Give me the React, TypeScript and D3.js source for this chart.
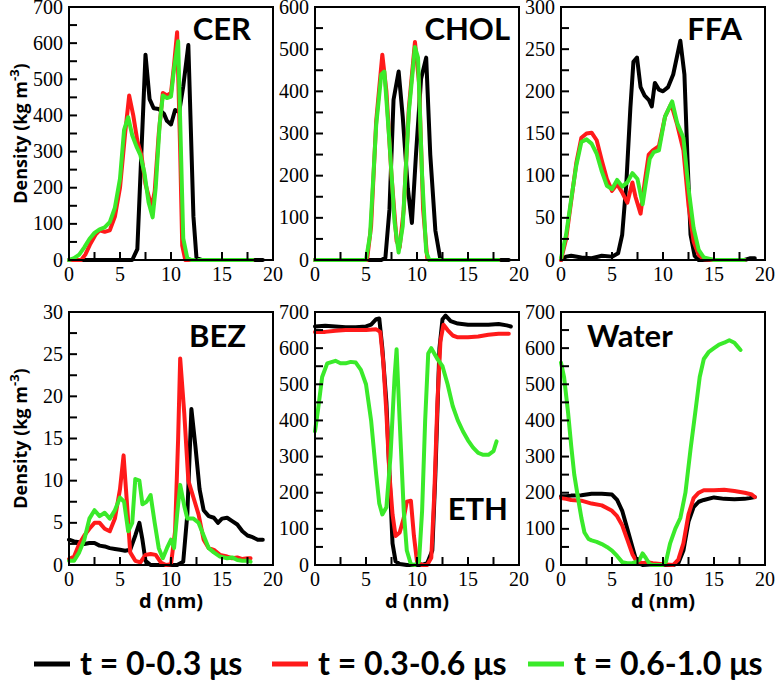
import * as d3 from "d3";
import React from "react";

type Pt = [number, number];

// ---- data (d in nm, density in kg m^-3) ----
const cerBlack: Pt[] = [[0,0],[3,0],[6.2,0],[6.7,30],[7.1,300],[7.5,568],[7.9,445],[8.3,420],[8.8,418],[9.3,405],[9.6,385],[10.0,375],[10.4,415],[10.8,410],[11.2,480],[11.7,595],[12.2,120],[12.5,5],[13,0],[19,0]];
const cerRed: Pt[] = [[0,0],[1.2,0],[1.6,15],[2.1,45],[2.6,70],[3.0,82],[3.5,78],[4.0,82],[4.5,120],[5.0,200],[5.5,350],[5.9,455],[6.3,400],[6.7,330],[7.1,290],[7.5,210],[8.1,145],[8.4,190],[8.8,350],[9.2,462],[9.6,455],[10.0,462],[10.3,540],[10.6,630],[10.9,300],[11.1,40],[11.4,0],[18,0]];
const cerGreen: Pt[] = [[0,0],[0.5,5],[1,15],[1.5,35],[2,58],[2.5,75],[3,85],[3.5,90],[4,105],[4.5,145],[5,225],[5.4,360],[5.8,395],[6.2,345],[6.6,315],[7.0,290],[7.4,240],[7.8,160],[8.2,118],[8.5,200],[8.9,380],[9.2,455],[9.6,448],[10.0,452],[10.3,530],[10.7,605],[10.95,330],[11.2,60],[11.6,5],[12,0],[18,0]];

const cholBlack: Pt[] = [[0,0],[6.5,0],[6.9,5],[7.3,120],[7.7,380],[8.2,447],[8.6,340],[9.1,170],[9.5,88],[9.9,250],[10.4,430],[10.9,480],[11.3,250],[11.8,70],[12.3,0],[19,0]];
const cholRed: Pt[] = [[0,0],[5.1,0],[5.5,80],[6.0,330],[6.6,487],[7.0,400],[7.5,200],[8.0,45],[8.3,30],[8.7,120],[9.2,360],[9.8,517],[10.2,420],[10.6,120],[11.0,5],[11.2,0],[18,0]];
const cholGreen: Pt[] = [[0,0],[5.0,0],[5.4,60],[6.0,320],[6.5,440],[6.8,447],[7.3,280],[7.8,90],[8.2,18],[8.6,80],[9.2,350],[9.8,505],[10.1,480],[10.5,200],[10.9,20],[11.2,0],[18,0]];

const ffaBlack: Pt[] = [[0,0],[0.5,4],[1,5],[2,3],[3,2],[4,5],[5,4],[5.6,8],[6.0,30],[6.4,90],[6.8,180],[7.1,235],[7.45,240],[7.8,205],[8.2,195],[8.6,190],[8.9,182],[9.2,210],[9.6,202],[10.0,200],[10.5,205],[11.0,220],[11.7,260],[12.1,220],[12.4,120],[12.7,30],[13.1,5],[13.5,0],[18,0],[18.5,2],[19,2]];
const ffaRed: Pt[] = [[0,0],[0.5,25],[1,70],[1.5,115],[2,145],[2.5,150],[3,151],[3.5,142],[4,118],[4.5,96],[5.0,82],[5.5,90],[6.0,80],[6.5,68],[7.0,92],[7.3,75],[7.8,55],[8.2,92],[8.6,125],[9,130],[9.6,135],[10.2,170],[10.8,185],[11.4,160],[12.0,130],[12.5,65],[13,22],[13.5,6],[14,1],[15,0],[18,0]];
const ffaGreen: Pt[] = [[0,2],[0.5,30],[1,72],[1.5,112],[2,140],[2.5,143],[3,138],[3.5,126],[4,105],[4.5,88],[5.0,84],[5.5,95],[6.0,87],[6.5,92],[7.0,103],[7.5,96],[8.0,66],[8.3,90],[8.7,120],[9.1,128],[9.6,130],[10.2,170],[10.9,188],[11.4,162],[12.0,145],[12.5,85],[13,38],[13.5,12],[14,3],[15,0],[18,0]];

const bezBlack: Pt[] = [[0,3.0],[0.5,2.8],[1,2.7],[1.5,2.5],[2,2.6],[2.5,2.6],[3,2.3],[3.5,2.2],[4,2.0],[4.5,1.9],[5,1.8],[5.5,1.7],[6,1.8],[6.5,3.5],[6.9,5.0],[7.2,3.0],[7.5,0.5],[8,0],[10.6,0],[11.2,0.4],[11.6,6],[12.0,18.5],[12.4,14],[12.8,9],[13.2,6.5],[13.7,5.8],[14.2,5.6],[14.6,5],[15.0,5.5],[15.5,5.6],[16.0,5.2],[16.5,4.8],[17.0,4.0],[17.5,3.5],[18.0,3.3],[18.5,3.0],[19,3.0]];
const bezRed: Pt[] = [[0,0.7],[0.5,1],[1,2.5],[1.5,3.5],[2,4.3],[2.5,5],[3,5],[3.5,4.3],[4,4.0],[4.5,5.5],[5,9],[5.35,13],[5.7,7],[6,1.5],[6.5,0.5],[7,0.3],[7.5,1.2],[8,1.3],[8.5,1.2],[9,0.3],[9.5,0],[10,0.1],[10.4,4],[10.7,15],[10.9,24.5],[11.3,18],[11.7,10],[12.2,8],[12.7,6],[13.2,3],[13.7,2],[14.2,1.8],[14.8,1.2],[15.5,1.0],[16,0.8],[16.5,0.9],[17,0.7],[17.5,0.8],[17.8,0.8]];
const bezGreen: Pt[] = [[0,0.5],[0.5,0.5],[1,1.5],[1.5,3],[2,5.5],[2.5,6.5],[3,5.8],[3.5,6.2],[4,5.5],[4.5,6.5],[5,8.0],[5.4,7.5],[5.8,4],[6.2,5],[6.5,10.2],[6.9,10],[7.2,7.2],[7.6,7.5],[8,8.3],[8.4,5],[8.8,2],[9.2,0.8],[9.6,2],[10,3],[10.3,2],[10.6,6],[10.9,9.5],[11.3,7],[11.6,5.5],[12.2,5.5],[12.7,5.0],[13.2,3.5],[13.7,2.0],[14.2,1.5],[14.8,1.0],[15.5,0.8],[16,0.9],[16.5,0.6],[17,0.5],[17.5,0.5],[17.8,0.4]];

const ethBlack: Pt[] = [[0,660],[1,662],[2,660],[3,658],[4,658],[5,660],[5.5,665],[6.0,680],[6.3,682],[6.6,600],[7.0,450],[7.3,250],[7.6,60],[7.9,10],[8.3,3],[9,0],[10.5,0],[11.0,5],[11.5,40],[11.8,250],[12.2,600],[12.5,680],[12.8,690],[13.3,675],[14,668],[15,665],[16,665],[17,665],[18,667],[18.8,663],[19.2,660]];
const ethRed: Pt[] = [[0,645],[1,645],[2,648],[3,650],[4,650],[5,650],[6,652],[6.4,645],[6.7,560],[7.0,420],[7.3,250],[7.6,140],[7.9,80],[8.3,90],[8.7,130],[9.0,175],[9.4,178],[9.7,80],[10.0,10],[10.5,0],[11.0,0],[11.4,20],[11.7,200],[12.0,450],[12.3,620],[12.6,665],[13.0,650],[13.5,635],[14,630],[15,630],[16,632],[17,637],[18,640],[19,640]];
const ethGreen: Pt[] = [[0,370],[0.3,430],[0.7,520],[1.2,558],[2,565],[2.5,558],[3,558],[3.5,562],[4,560],[4.5,540],[5,500],[5.5,400],[6,250],[6.3,170],[6.6,140],[7.0,160],[7.4,300],[7.8,520],[8.0,597],[8.3,400],[8.7,150],[9.0,40],[9.4,2],[9.8,0],[10.2,10],[10.5,150],[10.8,400],[11.1,585],[11.4,600],[12,570],[12.5,550],[13,500],[13.5,440],[14,400],[14.5,370],[15,345],[15.5,325],[16,310],[16.5,305],[17,305],[17.5,315],[17.8,342]];

const waterBlack: Pt[] = [[0,190],[0.5,190],[1,192],[2,193],[3,197],[4,197],[5,195],[5.5,180],[6,150],[6.5,100],[7,50],[7.3,20],[7.6,5],[8,0],[9,2],[10,0],[11,0],[11.5,5],[12,40],[12.5,120],[13,160],[13.5,175],[14,180],[15,187],[16,183],[17,182],[18,183],[18.5,185],[19,188]];
const waterRed: Pt[] = [[0,185],[0.5,183],[1,180],[2,178],[3,170],[4,165],[5,150],[5.5,135],[6,110],[6.5,70],[7,30],[7.4,10],[8,5],[8.5,8],[9,5],[10,2],[11,0],[11.5,15],[12,60],[12.5,140],[13,185],[13.5,200],[14,207],[15,207],[16,208],[17,205],[18,200],[18.7,195],[19,188]];
const waterGreen: Pt[] = [[0,560],[0.3,520],[0.7,420],[1,330],[1.3,250],[1.7,180],[2,130],[2.3,90],[2.7,72],[3,68],[3.5,64],[4,58],[4.5,50],[5,40],[5.5,25],[6,8],[6.5,5],[7,5],[7.3,8],[7.7,15],[8,32],[8.3,20],[8.7,2],[9,0],[10,0],[10.3,10],[10.7,60],[11.2,100],[11.7,130],[12.2,200],[12.7,320],[13.2,430],[13.6,520],[14,570],[14.5,590],[15,600],[15.5,610],[16,615],[16.5,622],[17,615],[17.3,605],[17.6,595]];

const panelNames = ["CER", "CHOL", "FFA", "BEZ", "ETH", "Water"];
const yMaxes = [700, 600, 300, 30, 700, 700];
const yMajor = [100, 100, 50, 5, 100, 100];
const panelSeries: Pt[][][] = [
  [cerBlack, cerRed, cerGreen],
  [cholBlack, cholRed, cholGreen],
  [ffaBlack, ffaRed, ffaGreen],
  [bezBlack, bezRed, bezGreen],
  [ethBlack, ethRed, ethGreen],
  [waterBlack, waterRed, waterGreen],
];
const seriesLabels = ["t = 0-0.3 μs", "t = 0.3-0.6 μs", "t = 0.6-1.0 μs"];
const colors = ["#000000", "#ff1a1a", "#3aea2a"];

// ---- layout ----
const W = 776;
const H = 685;
const colX = [69, 315, 561];
const rowY = [7, 312];
const pw = 204;
const ph = 253;
const labelPos: { x: number; y: number; anchor: string }[] = [
  { x: 182, y: 33, anchor: "end" },
  { x: 195, y: 33, anchor: "end" },
  { x: 181, y: 33, anchor: "end" },
  { x: 177, y: 35, anchor: "end" },
  { x: 193, y: 208, anchor: "end" },
  { x: 26, y: 35, anchor: "start" },
];
const legendX = [34, 272, 528];
const serif = "'Liberation Serif', 'DejaVu Serif', serif";
const sans = "Lato, 'Open Sans', sans-serif";

const Panel = ({ i }: { i: number }) => {
  const col = i % 3;
  const row = Math.floor(i / 3);
  const x = d3.scaleLinear().domain([0, 20]).range([0, pw]);
  const y = d3.scaleLinear().domain([0, yMaxes[i]]).range([ph, 0]);
  const line = d3
    .line<Pt>()
    .x((d) => x(d[0]))
    .y((d) => y(d[1]));
  const xTicks = d3.range(0, 20.01, 2.5);
  const yTicks = d3.range(0, yMaxes[i] + 0.01, yMajor[i] / 2);
  return (
    <g transform={`translate(${colX[col]},${rowY[row]})`}>
      {panelSeries[i].map((s, k) => (
        <path
          key={k}
          d={line(s) ?? ""}
          fill="none"
          stroke={colors[k]}
          strokeWidth={4}
          strokeLinejoin="round"
          strokeLinecap="round"
        />
      ))}
      <rect x={0} y={0} width={pw} height={ph} fill="none" stroke="#000" strokeWidth={2} />
      {xTicks.map((t) => (
        <line key={t} x1={x(t)} x2={x(t)} y1={ph} y2={ph - 8} stroke="#000" strokeWidth={2} />
      ))}
      {yTicks.map((t) => (
        <line key={t} x1={0} x2={8} y1={y(t)} y2={y(t)} stroke="#000" strokeWidth={2} />
      ))}
      {d3.range(0, 20.01, 5).map((t) => (
        <text key={t} x={x(t)} y={ph + 21} textAnchor="middle" fontFamily={serif} fontSize={20}>
          {t}
        </text>
      ))}
      {d3.range(0, yMaxes[i] + 0.01, yMajor[i]).map((t) => (
        <text key={t} x={-6} y={y(t) + 6.5} textAnchor="end" fontFamily={serif} fontSize={20}>
          {t}
        </text>
      ))}
      <text
        x={labelPos[i].x}
        y={labelPos[i].y}
        textAnchor={labelPos[i].anchor as any}
        fontFamily={sans}
        fontWeight="bold"
        fontSize={31}
      >
        {panelNames[i]}
      </text>
      {row === 1 && (
        <text x={pw / 2} y={ph + 43} textAnchor="middle" fontFamily="'Open Sans', sans-serif" fontWeight="bold" fontSize={20}>
          d (nm)
        </text>
      )}
      {col === 0 && (
        <text
          transform={`translate(${-42},${ph / 2}) rotate(-90)`}
          textAnchor="middle"
          fontFamily="'Open Sans', sans-serif"
          fontWeight="bold"
          fontSize={18}
        >
          Density (kg m
          <tspan dy={-8} fontSize={13}>-3</tspan>
          <tspan dy={8}>)</tspan>
        </text>
      )}
    </g>
  );
};

export default function App() {
  return (
    <svg width={W} height={H} style={{ display: "block", position: "absolute", left: 0, top: 0, background: "#fff" }}>
      {panelNames.map((_, i) => (
        <Panel key={i} i={i} />
      ))}
      {seriesLabels.map((lab, k) => (
        <g key={k} transform={`translate(${legendX[k]},664)`}>
          <line x1={0} x2={36} y1={0} y2={0} stroke={colors[k]} strokeWidth={5} />
          <text x={46} y={11} fontFamily={sans} fontWeight="bold" fontSize={32}>
            {lab}
          </text>
        </g>
      ))}
    </svg>
  );
}
